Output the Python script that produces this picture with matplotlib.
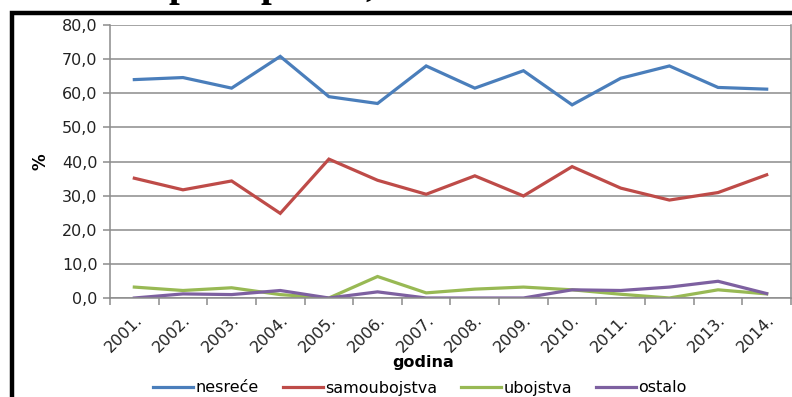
import numpy as np
import matplotlib.pyplot as plt
from matplotlib.patches import Rectangle
from matplotlib.ticker import FixedLocator

# data
years = ['2001.', '2002.', '2003.', '2004.', '2005.', '2006.', '2007.',
         '2008.', '2009.', '2010.', '2011.', '2012.', '2013.', '2014.']
nesrece = [64.0, 64.6, 61.5, 70.8, 59.0, 57.0, 68.0, 61.5, 66.6, 56.6, 64.4, 68.0, 61.7, 61.2]
samoubojstva = [35.1, 31.7, 34.3, 24.8, 40.7, 34.5, 30.4, 35.8, 29.9, 38.5, 32.2, 28.7, 30.9, 36.1]
ubojstva = [3.2, 2.2, 3.0, 1.0, 0.0, 6.3, 1.5, 2.6, 3.2, 2.4, 1.1, 0.0, 2.4, 1.2]
ostalo = [0.0, 1.2, 1.0, 2.2, 0.0, 1.8, 0.0, 0.0, 0.0, 2.4, 2.2, 3.2, 4.9, 1.3]
y_ticks = [0, 10, 20, 30, 40, 50, 60, 70, 80]

series = [('nesreće', nesrece, '#4a7ebb'),
          ('samoubojstva', samoubojstva, '#be4b48'),
          ('ubojstva', ubojstva, '#98b954'),
          ('ostalo', ostalo, '#7d60a0')]

W, H = 792, 397
fig = plt.figure(figsize=(W / 100, H / 100), dpi=100)
ax = fig.add_axes([110 / W, 1 - 298 / H, (791 - 110) / W, (298 - 25) / H])

x = np.arange(len(years))
for name, vals, col in series:
    ax.plot(x, vals, color=col, lw=2.3, label=name, solid_joinstyle='miter')

grid_col = '#8c8c8c'
ax.set_xlim(-0.5, len(years) - 0.5)
ax.set_ylim(0, 80)
ax.set_yticks(y_ticks)
ax.set_yticklabels([f'{v:.1f}'.replace('.', ',') for v in y_ticks], fontsize=11.5, color='#222222')
ax.yaxis.grid(True, color=grid_col, lw=1.1)
ax.set_axisbelow(True)
ax.set_xticks(x)
ax.set_xticklabels(years, rotation=45, ha='right', rotation_mode='anchor', fontsize=11.5, color='#222222')
ax.tick_params(axis='x', length=0, pad=10)
ax.xaxis.set_minor_locator(FixedLocator(np.arange(-0.5, len(years), 1.0)))
ax.tick_params(axis='x', which='minor', length=5, color=grid_col, width=1.1)
ax.tick_params(axis='y', length=5, color=grid_col, width=1.1, pad=4)
for s in ['left', 'bottom', 'right']:
    ax.spines[s].set_color(grid_col)
    ax.spines[s].set_linewidth(1.1)
ax.spines['top'].set_visible(False)

fig.text(41 / W, 1 - 162 / H, '%', rotation=90, fontsize=12, fontweight='bold',
         ha='center', va='center')
fig.text(423 / W, 1 - 363 / H, 'godina', fontsize=11.5, fontweight='bold',
         ha='center', va='center')

fig.legend(loc='center', bbox_to_anchor=(420 / W, 1 - 388 / H), ncol=4, frameon=False,
           fontsize=11.5, handlelength=2.5, handletextpad=0.15, columnspacing=1.5,
           borderaxespad=0)

# black frame of the cropped page
fig.add_artist(Rectangle((11.5 / W, -0.2), 1.2, 1.2 - 12.5 / H, transform=fig.transFigure,
                         fill=False, edgecolor='black', lw=3.2))

# bottom of the cut-off title line
for tx, t in [(179, 'p'), (271, 'p'), (370, ',')]:
    fig.text(tx / W, 1 + 4 / H, t, fontsize=28, fontweight='bold', family='Liberation Serif',
             ha='center', va='baseline')

fig.savefig('out.png', dpi=100)
